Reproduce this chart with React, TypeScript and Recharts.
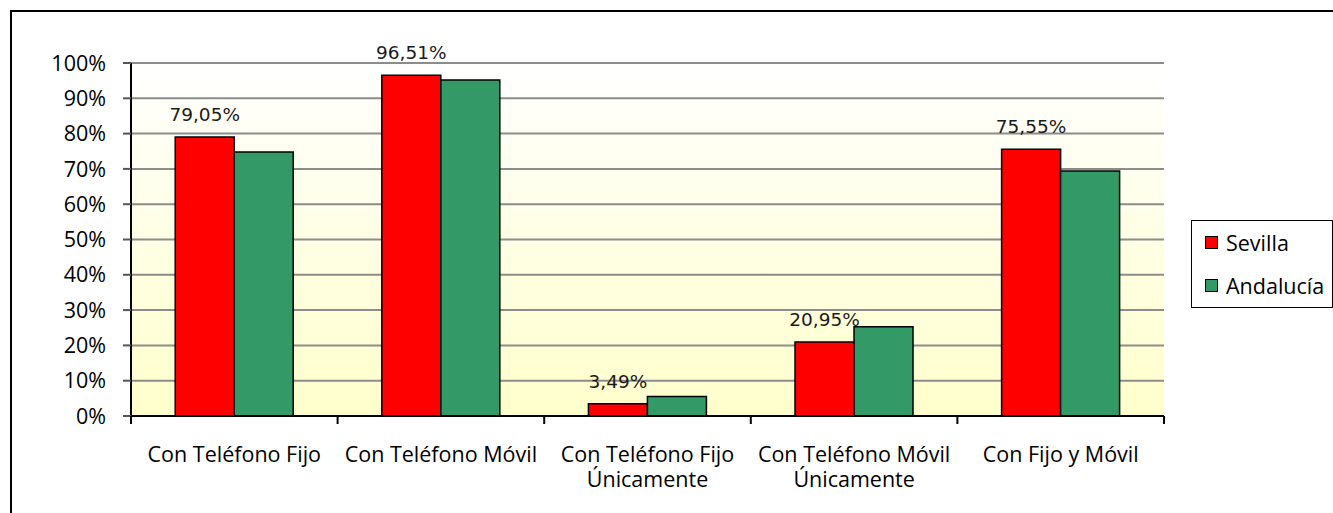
import { Bar, BarChart, CartesianGrid, LabelList, Legend, XAxis, YAxis } from 'recharts';

const categories = [
  'Con Teléfono Fijo',
  'Con Teléfono Móvil',
  'Con Teléfono Fijo\nÚnicamente',
  'Con Teléfono Móvil\nÚnicamente',
  'Con Fijo y Móvil'
];
const seriesNames = ['Sevilla', 'Andalucía'];
const sevilla = [79.05, 96.51, 3.49, 20.95, 75.55];
const andalucia = [74.8, 95.2, 5.5, 25.3, 69.4];
const yTicks = [0, 10, 20, 30, 40, 50, 60, 70, 80, 90, 100];

const COLORS = { sevilla: '#FF0000', andalucia: '#339966' };
const AXIS_FONT = '"Open Sans", sans-serif';
const LABEL_FONT = '"DejaVu Sans", sans-serif';

const WIDTH = 1333;
const HEIGHT = 513;
const PLOT_LEFT = 131;
const PLOT_RIGHT = 1164;
const BAND = (PLOT_RIGHT - PLOT_LEFT) / categories.length;

const data = categories.map((name, i) => ({ name, sevilla: sevilla[i], andalucia: andalucia[i] }));

const pct = (v: number) => `${v.toFixed(2).replace('.', ',')}%`;

// ticks sit on the category borders, like the original
const CategoryTick = ({ x, y, payload, index }: any) => {
  const lines = String(payload.value).split('\n');
  const half = BAND / 2;
  return (
    <g>
      <line x1={x - half} x2={x - half} y1={y} y2={y + 8} stroke="#000" strokeWidth={2} />
      {index === categories.length - 1 && (
        <line x1={x + half} x2={x + half} y1={y} y2={y + 8} stroke="#000" strokeWidth={2} />
      )}
      <text x={x} y={y + 46} textAnchor="middle" fontFamily={AXIS_FONT} fontSize={21.5} fill="#000">
        {lines.map((l, i) => (
          <tspan key={i} x={x} dy={i === 0 ? 0 : 25}>
            {l}
          </tspan>
        ))}
      </text>
    </g>
  );
};

const LegendBox = ({ payload }: any) => {
  const items = [...(payload || [])].sort(
    (a: any, b: any) => seriesNames.indexOf(a.value) - seriesNames.indexOf(b.value)
  );
  return (
    <div
      style={{
        boxSizing: 'border-box',
        width: 142,
        height: 88,
        border: '1.5px solid #000',
        background: '#fff',
        paddingLeft: 13
      }}
    >
      {items.map((p: any) => (
        <div key={p.value} style={{ display: 'flex', alignItems: 'center', height: 43 }}>
          <span
            style={{
              boxSizing: 'border-box',
              width: 13,
              height: 13,
              background: p.color,
              border: '1.5px solid #000',
              marginRight: 8
            }}
          />
          <span style={{ fontFamily: AXIS_FONT, fontSize: 21.5, color: '#000' }}>{p.value}</span>
        </div>
      ))}
    </div>
  );
};

export default function App() {
  return (
    <div
      style={{
        position: 'absolute',
        left: 0,
        top: 0,
        width: WIDTH,
        height: HEIGHT,
        overflow: 'hidden',
        background: '#fff'
      }}
    >
      <div
        style={{
          position: 'absolute',
          left: 10,
          top: 10,
          width: WIDTH + 20,
          height: HEIGHT + 20,
          borderLeft: '2px solid #000',
          borderTop: '2px solid #000'
        }}
      />
      <BarChart
        width={WIDTH}
        height={HEIGHT}
        data={data}
        margin={{ top: 63, right: WIDTH - PLOT_RIGHT, bottom: 0, left: 0 }}
        barCategoryGap="21.4%"
        barGap={0}
      >
        <defs>
          <linearGradient id="plotBg" x1="0" y1="0" x2="0" y2="1">
            <stop offset="0%" stopColor="#FFFFFF" />
            <stop offset="100%" stopColor="#FFFFCC" />
          </linearGradient>
        </defs>
        <CartesianGrid
          yAxisId="left"
          vertical={false}
          stroke="#8C8C8C"
          strokeWidth={2}
          fill="url(#plotBg)"
          fillOpacity={1}
        />
        <XAxis
          dataKey="name"
          interval={0}
          height={97}
          tickSize={0}
          tickMargin={0}
          tickLine={false}
          axisLine={{ stroke: '#000', strokeWidth: 2 }}
          tick={<CategoryTick />}
        />
        <YAxis
          yAxisId="left"
          width={PLOT_LEFT}
          domain={[0, 100]}
          ticks={yTicks}
          interval={0}
          tickFormatter={(v: number) => `${v}%`}
          tickSize={8}
          tickMargin={17}
          axisLine={{ stroke: '#000', strokeWidth: 2 }}
          tickLine={{ stroke: '#555', strokeWidth: 2 }}
          tick={{ fontFamily: AXIS_FONT, fontSize: 21.5, fill: '#000' }}
        />
        <YAxis
          yAxisId="right"
          orientation="right"
          width={0}
          domain={[0, 100]}
          tick={false}
          tickLine={false}
          axisLine={{ stroke: '#8C8C8C', strokeWidth: 2 }}
        />
        <Legend
          layout="vertical"
          align="center"
          verticalAlign="middle"
          content={<LegendBox />}
          wrapperStyle={{ left: 1191, top: 220, right: 'auto', bottom: 'auto', width: 142 }}
        />
        <Bar
          yAxisId="left"
          dataKey="sevilla"
          name={seriesNames[0]}
          fill={COLORS.sevilla}
          stroke="#000"
          strokeWidth={1.5}
          isAnimationActive={false}
        >
          <LabelList
            dataKey="sevilla"
            position="top"
            offset={16}
            formatter={(v: any) => pct(Number(v))}
            fontFamily={LABEL_FONT}
            fontSize={18.5}
            fill="#1a1a1a"
          />
        </Bar>
        <Bar
          yAxisId="left"
          dataKey="andalucia"
          name={seriesNames[1]}
          fill={COLORS.andalucia}
          stroke="#000"
          strokeWidth={1.5}
          isAnimationActive={false}
        />
      </BarChart>
    </div>
  );
}
